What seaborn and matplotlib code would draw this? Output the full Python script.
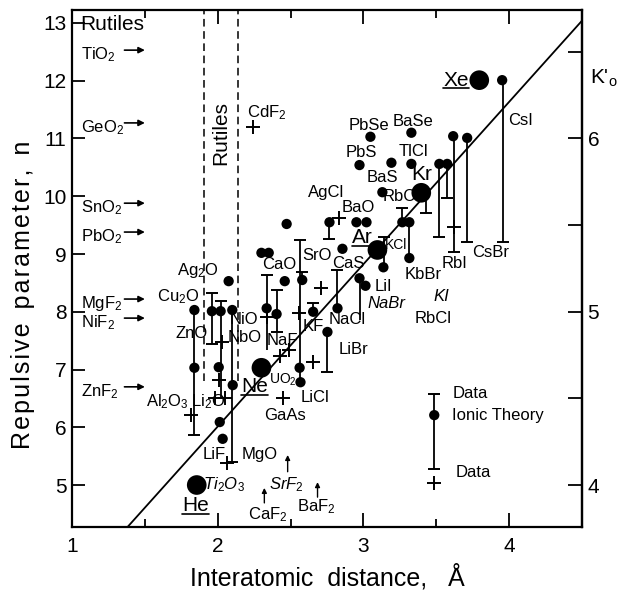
import matplotlib
matplotlib.use("Agg")
import matplotlib.pyplot as plt
import seaborn as sns
from matplotlib.lines import Line2D

# ---------------- data ----------------
# Ionic-theory values (small dots): interatomic distance (A) and repulsive parameter n
THEORY_X = [1.84, 1.84, 1.96, 2.02, 2.10, 2.075, 2.007, 2.103, 2.014, 2.034,
            2.30, 2.35, 2.46, 2.336, 2.404, 2.58, 2.473, 2.562, 2.568, 2.655,
            2.822, 2.753, 2.767, 2.952, 3.021, 2.856, 2.973, 3.014, 3.137, 3.267,
            3.315, 3.315, 3.13, 3.192, 2.973, 3.329, 3.048, 3.329, 3.521, 3.575,
            3.616, 3.712, 3.952]
THEORY_N = [8.03, 7.03, 8.01, 8.01, 8.03, 8.53, 7.04, 6.73, 6.09, 5.80,
            9.02, 9.02, 8.53, 8.06, 7.96, 8.55, 9.52, 7.03, 6.78, 8.00,
            8.06, 7.65, 9.55, 9.55, 9.55, 9.09, 8.58, 8.45, 8.77, 9.55,
            9.55, 8.93, 10.07, 10.58, 10.54, 10.56, 11.03, 11.10, 10.56, 10.56,
            11.04, 11.01, 12.01]

# Bars from theory value to data value (cap = 1 when the data end has a T cap)
BAR_X = [1.84, 1.84, 1.96, 1.96, 2.02, 2.02, 2.10, 2.10, 2.336, 2.336,
         2.404, 2.404, 2.58, 2.562, 2.562, 2.655, 2.753, 2.767, 2.822, 2.975,
         3.14, 3.267, 3.315, 3.432, 3.521, 3.575, 3.62, 3.712, 3.96]
BAR_FROM = [8.03, 7.03, 8.01, 8.01, 8.01, 8.01, 8.03, 6.73, 8.06, 8.06,
            7.96, 7.96, 8.55, 7.03, 7.03, 8.00, 7.65, 9.55, 8.06, 8.58,
            8.77, 9.55, 9.55, 10.06, 10.56, 10.56, 11.04, 11.01, 12.01]
BAR_TO = [7.03, 5.87, 8.32, 7.45, 8.19, 6.51, 6.73, 5.40, 8.64, 7.34,
          8.38, 7.65, 8.69, 9.24, 6.78, 8.15, 6.96, 9.26, 8.72, 7.86,
          9.29, 9.80, 8.93, 9.71, 9.29, 9.97, 9.03, 9.21, 9.21]
BAR_CAP = [0, 1, 1, 1, 1, 0, 0, 1, 1, 0,
           1, 1, 1, 1, 0, 1, 1, 1, 1, 0,
           1, 1, 0, 1, 1, 1, 1, 1, 1]

# Other data (crosses)
DATA_X = [1.82, 2.027, 2.007, 1.98, 2.05, 2.062, 2.24, 2.336, 2.43, 2.49,
          2.56, 2.712, 2.651, 2.445, 2.83, 3.623]
DATA_N = [6.21, 7.48, 6.82, 6.51, 6.51, 5.38, 11.20, 7.91, 7.23, 7.33,
          7.98, 8.41, 7.13, 6.51, 9.62, 9.47]

# Rare gases (large dots)
GAS = ["He", "Ne", "Ar", "Kr", "Xe"]
GAS_X = [1.856, 2.30, 3.096, 3.397, 3.795]
GAS_N = [5.00, 7.03, 9.07, 10.06, 12.01]
GAS_LABEL_X = [1.849, 2.253, 2.993, 3.397, 3.637]
GAS_LABEL_N = [4.65, 6.70, 9.28, 10.37, 12.01]
GAS_UNDERLINE = [1, 1, 1, 0, 1]

# Line through the rare gases
LINE_X = [1.38, 4.5]
LINE_N = [4.27, 13.04]

# Rutiles: off-scale values marked by arrows on the left
RUTILE = ["TiO$_2$", "GeO$_2$", "SnO$_2$", "PbO$_2$", "MgF$_2$", "NiF$_2$", "ZnF$_2$"]
RUTILE_N = [12.53, 11.27, 9.88, 9.38, 8.22, 7.89, 6.70]
RUTILE_COLUMN = [1.904, 2.137]

# Fluorites: lower limits marked by upward arrows
FLUORITE = ["CaF$_2$", "SrF$_2$", "BaF$_2$"]
FLUORITE_X = [2.32, 2.48, 2.685]
FLUORITE_N_LOW = [4.69, 5.23, 4.79]
FLUORITE_N_HIGH = [4.95, 5.52, 5.05]
FLUORITE_LABEL_X = [2.342, 2.473, 2.678]
FLUORITE_LABEL_N = [4.48, 5.00, 4.62]

# Compound labels
LABEL_TEXT = ["Ag$_2$O", "Cu$_2$O", "ZnO", "NiO", "NbO", "CaO", "NaF", "SrO", "KF",
              "NaCl", "LiBr", "CaS", "LiI", "NaBr", "KCl", "KbBr", "RbI", "CsBr",
              "KI", "RbCl", "AgCl", "BaO", "RbCl", "BaS", "PbS", "TlCl", "PbSe",
              "BaSe", "CsI", "CdF$_2$", "UO$_2$", "LiCl", "GaAs", "Al$_2$O$_3$",
              "Li$_2$O", "LiF", "MgO", "Ti$_2$O$_3$"]
LABEL_X = [1.863, 1.726, 1.822, 2.178, 2.185, 2.425, 2.445, 2.685, 2.658,
           2.89, 2.932, 2.897, 3.137, 3.158, 3.226, 3.41, 3.623, 3.87,
           3.534, 3.479, 2.747, 2.966, 3.26, 3.13, 2.986, 3.342, 3.041,
           3.342, 4.075, 2.336, 2.445, 2.671, 2.459, 1.658,
           1.932, 1.973, 2.288, 2.041]
LABEL_N = [8.72, 8.26, 7.63, 7.86, 7.56, 8.81, 7.51, 8.98, 7.74,
           7.86, 7.34, 8.84, 8.43, 8.15, 9.16, 8.64, 8.84, 9.03,
           8.26, 7.89, 10.07, 9.80, 9.99, 10.33, 10.75, 10.77, 11.23,
           11.29, 11.32, 11.44, 6.82, 6.52, 6.21, 6.44,
           6.44, 5.52, 5.52, 5.00]
ITALIC = {"NaBr", "KI", "Ti$_2$O$_3$"}
SMALL = {"KCl", "UO$_2$"}

# Legend key
LEGEND_X = 3.486
LEGEND_CAP_HIGH = 6.58
LEGEND_DOT = 6.21
LEGEND_CAP_LOW = 5.28
LEGEND_CROSS = 5.03
LEGEND_TEXT = ["Data", "Ionic Theory", "Data"]
LEGEND_TEXT_X = [3.61, 3.61, 3.63]
LEGEND_TEXT_N = [6.59, 6.21, 5.21]

K_TICKS = [4, 5, 6]
K_MINOR = [4.5, 5.5, 6.5]

# ---------------- style ----------------
sns.set_theme(style="ticks")
plt.rcParams["font.family"] = ["Liberation Sans", "DejaVu Sans"]
plt.rcParams["mathtext.fontset"] = "custom"
plt.rcParams["mathtext.rm"] = "Liberation Sans"
plt.rcParams["mathtext.it"] = "Liberation Sans:italic"
plt.rcParams["text.color"] = "black"
plt.rcParams["axes.edgecolor"] = "black"
plt.rcParams["xtick.color"] = "black"
plt.rcParams["ytick.color"] = "black"
plt.rcParams["axes.labelcolor"] = "black"

fig = plt.figure(figsize=(6.2, 5.9), dpi=100)
ax = fig.add_axes([72 / 620, 1 - 527 / 590, 510 / 620, 517 / 590])
YLO, YHI = 4.273, 13.225
ax.set_xlim(1, 4.5)
ax.set_ylim(YLO, YHI)
for s in ax.spines.values():
    s.set_linewidth(1.6)
    s.set_color("black")

LW = 1.3
# rutile column (dashed)
for xv in RUTILE_COLUMN:
    ax.axvline(xv, ymin=(6.8 - YLO) / (YHI - YLO), ymax=1, color="black",
               lw=1.1, ls=(0, (5, 3)), zorder=1)
ax.text(sum(RUTILE_COLUMN) / 2, 11.1, "Rutiles", rotation=90, ha="center",
        va="center", fontsize=15)

# line through rare gases
sns.lineplot(x=LINE_X, y=LINE_N, color="black", lw=LW, ax=ax, zorder=2)

# bars
ax.vlines(BAR_X, BAR_FROM, BAR_TO, color="black", lw=LW, zorder=3)
cap_x = [x for x, c in zip(BAR_X, BAR_CAP) if c]
cap_y = [y for y, c in zip(BAR_TO, BAR_CAP) if c]
sns.scatterplot(x=cap_x, y=cap_y, marker="_", s=70, linewidth=1.4,
                color="black", ax=ax, zorder=3)

# theory dots
sns.scatterplot(x=THEORY_X, y=THEORY_N, s=55, color="black", edgecolor="none",
                ax=ax, zorder=4)
# data crosses
sns.scatterplot(x=DATA_X, y=DATA_N, marker="+", s=110, linewidth=1.4,
                color="black", ax=ax, zorder=4)
# rare gases
sns.scatterplot(x=GAS_X, y=GAS_N, s=200, color="black", edgecolor="none",
                ax=ax, zorder=5)

gas_texts = []
for g, x, n in zip(GAS, GAS_LABEL_X, GAS_LABEL_N):
    gas_texts.append(ax.text(x, n, g, ha="center", va="center", fontsize=15, zorder=6))

# compound labels
for t, x, n in zip(LABEL_TEXT, LABEL_X, LABEL_N):
    ax.text(x, n, t, ha="center", va="center",
            fontsize=10 if t in SMALL else 12,
            style="italic" if t in ITALIC else "normal", zorder=6)

# rutile arrows at left
ax.text(1.055, 12.97, "Rutiles", ha="left", va="center", fontsize=15)
for t, n in zip(RUTILE, RUTILE_N):
    ax.text(1.06, n - 0.08, t, ha="left", va="center", fontsize=12)
    ax.annotate("", xy=(1.50, n), xytext=(1.36, n),
                arrowprops=dict(arrowstyle="-|>", color="black", lw=1.2,
                                mutation_scale=9, shrinkA=0, shrinkB=0))

# fluorite arrows at bottom
for t, x, lo, hi, lx, ln in zip(FLUORITE, FLUORITE_X, FLUORITE_N_LOW,
                                FLUORITE_N_HIGH, FLUORITE_LABEL_X, FLUORITE_LABEL_N):
    ax.annotate("", xy=(x, hi), xytext=(x, lo),
                arrowprops=dict(arrowstyle="-|>", color="black", lw=1.0,
                                mutation_scale=7, shrinkA=0, shrinkB=0))
    ax.text(lx, ln, t, ha="center", va="center", fontsize=12,
            style="italic" if t == "SrF$_2$" else "normal")

# legend key
ax.vlines([LEGEND_X], [LEGEND_CAP_LOW], [LEGEND_CAP_HIGH], color="black", lw=LW)
sns.scatterplot(x=[LEGEND_X, LEGEND_X], y=[LEGEND_CAP_LOW, LEGEND_CAP_HIGH],
                marker="_", s=70, linewidth=1.4, color="black", ax=ax)
sns.scatterplot(x=[LEGEND_X], y=[LEGEND_DOT], s=55, color="black",
                edgecolor="none", ax=ax, zorder=4)
sns.scatterplot(x=[LEGEND_X], y=[LEGEND_CROSS], marker="+", s=110,
                linewidth=1.4, color="black", ax=ax)
for t, x, n in zip(LEGEND_TEXT, LEGEND_TEXT_X, LEGEND_TEXT_N):
    ax.text(x, n, t, ha="left", va="center", fontsize=12)

# ticks
ax.set_xticks([1, 2, 3, 4])
ax.set_xticks([1.5, 2.5, 3.5], minor=True)
ax.set_xticklabels(["1", "2", "3", "4"])
ax.set_yticks(range(5, 14))
ax.tick_params(axis="x", which="major", direction="in", length=10, width=1.3,
               top=True, bottom=True, labelsize=15, pad=7)
ax.tick_params(axis="x", which="minor", direction="in", length=6, width=1.3,
               top=True, bottom=True)
ax.tick_params(axis="y", which="major", direction="in", length=9, width=1.3,
               left=True, right=False, labelsize=15, pad=4)

sec = ax.secondary_yaxis("right", functions=(lambda n: (n + 7) / 3,
                                             lambda k: 3 * k - 7))
sec.set_yticks(K_TICKS)
sec.set_yticks(K_MINOR, minor=True)
sec.tick_params(axis="y", which="major", direction="in", length=10, width=1.3,
                labelsize=15, pad=4)
sec.tick_params(axis="y", which="minor", direction="in", length=10, width=1.3)
sec.spines["right"].set_linewidth(1.6)
fig.text(590 / 620, 1 - 78 / 590, r"K$'_{\rm o}$", fontsize=15, ha="left",
         va="center")

ax.set_xlabel("Interatomic  distance,   Å", fontsize=18, labelpad=6)
ylab = "\u200a".join("Repulsive") + "  " + "\u200a".join("parameter,") + "  n"
ax.set_ylabel(ylab, fontsize=18)
ax.yaxis.set_label_coords(-0.072, 0.45)

# underline the rare-gas labels
fig.canvas.draw()
renderer = fig.canvas.get_renderer()
inv = fig.transFigure.inverted()
for t, u in zip(gas_texts, GAS_UNDERLINE):
    if not u:
        continue
    bb = t.get_window_extent(renderer).transformed(inv)
    fig.add_artist(Line2D([bb.x0, bb.x1], [bb.y0 + 0.002, bb.y0 + 0.002],
                          transform=fig.transFigure, color="black", lw=1.2))

fig.savefig("out.png", dpi=100)
